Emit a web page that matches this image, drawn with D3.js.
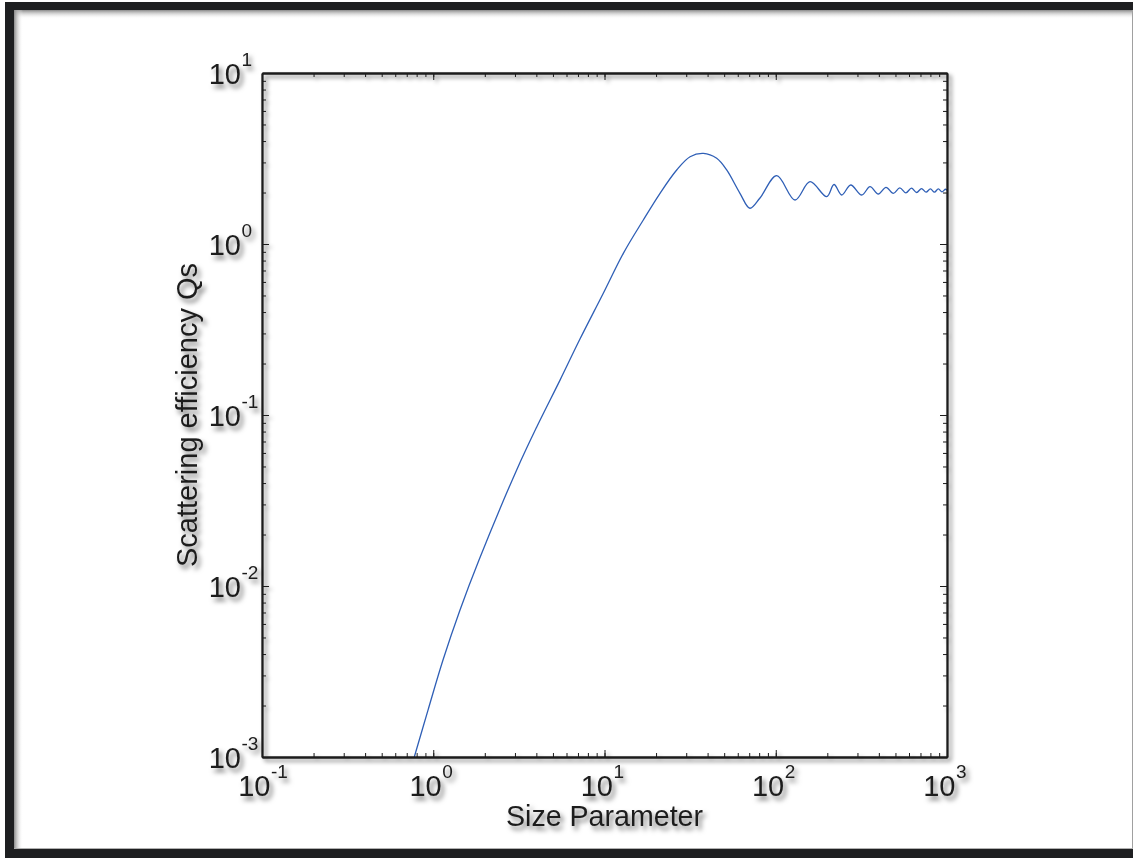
<!DOCTYPE html>
<html><head><meta charset="utf-8">
<script src="https://cdn.jsdelivr.net/npm/d3@7"></script>
<style>
body{margin:0;background:#fff}
svg{display:block}
text{font-family:"Liberation Sans",Arial,Helvetica,sans-serif;fill:#1e1e1e}
</style>
</head><body>
<svg id="chart" width="1133" height="858"></svg>
<script>
// ---- data ----
const sizeParameter = [0.775, 0.932, 1.14, 1.433, 1.85, 3.07, 4.02, 5.50, 7.19, 9.84, 12.88, 16.85, 21.1, 26.4, 31.6, 37.8, 45.2, 51.7, 61.8, 70.7, 80.9, 101.3, 129.6, 158.5, 198.4, 218.9, 242.7, 274.0, 317.7, 355.2, 397.1, 440.4, 485.8, 530, 575, 620, 665, 710, 755, 800, 845, 890, 935, 980, 1000];
const scatteringQs  = [0.001, 0.00188, 0.00369, 0.00724, 0.01419, 0.0477, 0.0851, 0.160, 0.278, 0.515, 0.882, 1.382, 1.979, 2.709, 3.24, 3.39, 3.17, 2.709, 1.979, 1.618, 1.858, 2.508, 1.808, 2.314, 1.891, 2.228, 1.934, 2.213, 1.934, 2.163, 1.960, 2.146, 1.979, 2.13, 1.99, 2.12, 2.00, 2.11, 2.01, 2.10, 2.01, 2.10, 2.02, 2.09, 2.06];
const xTickExponents = ["-1", "0", "1", "2", "3"];
const yTickExponents = ["-3", "-2", "-1", "0", "1"];
const tickBase = "10";
const xAxisTitle = "Size Parameter";
const yAxisTitle = "Scattering efficiency Qs";

const svg = d3.select("#chart");
const W = 1133, H = 858;
const pLeft = 262, pRight = 947, pTop = 73, pBottom = 757;

const defs = svg.append("defs");
function shadowFilter(id, dx, dy, sd, op){
  const f = defs.append("filter").attr("id",id).attr("x","-30%").attr("y","-30%").attr("width","170%").attr("height","170%");
  f.append("feGaussianBlur").attr("in","SourceAlpha").attr("stdDeviation",sd).attr("result","b");
  f.append("feOffset").attr("in","b").attr("dx",dx).attr("dy",dy).attr("result","o");
  f.append("feFlood").attr("flood-color","#000").attr("flood-opacity",op).attr("result","f");
  f.append("feComposite").attr("in","f").attr("in2","o").attr("operator","in").attr("result","s");
  const m = f.append("feMerge"); m.append("feMergeNode").attr("in","s"); m.append("feMergeNode").attr("in","SourceGraphic");
}
shadowFilter("tshadow", 3, 4, 2.4, 0.55);
shadowFilter("ashadow", 3, 3, 2, 0.45);

const gTop = defs.append("linearGradient").attr("id","gTop").attr("x1",0).attr("y1",0).attr("x2",0).attr("y2",1);
gTop.append("stop").attr("offset",0).attr("stop-color","#8a8a8a");
gTop.append("stop").attr("offset",1).attr("stop-color","#fff").attr("stop-opacity",0);
const gLeft = defs.append("linearGradient").attr("id","gLeft").attr("x1",0).attr("y1",0).attr("x2",1).attr("y2",0);
gLeft.append("stop").attr("offset",0).attr("stop-color","#8a8a8a");
gLeft.append("stop").attr("offset",1).attr("stop-color","#fff").attr("stop-opacity",0);

// ---- frame ----
svg.append("rect").attr("width",W).attr("height",H).attr("fill","#fff");
svg.append("rect").attr("x",14).attr("y",10).attr("width",W-14).attr("height",9).attr("fill","url(#gTop)");
svg.append("rect").attr("x",14).attr("y",10).attr("width",9).attr("height",838).attr("fill","url(#gLeft)");
svg.append("line").attr("x1",1132.5).attr("x2",1132.5).attr("y1",10).attr("y2",849).attr("stroke","#a0a0a0");
svg.append("line").attr("x1",14).attr("x2",W).attr("y1",848.5).attr("y2",848.5).attr("stroke","#b0b0b0");
svg.append("rect").attr("x",5).attr("y",2).attr("width",W-5).attr("height",8).attr("fill","#1e1f21");
svg.append("rect").attr("x",5).attr("y",2).attr("width",9).attr("height",H-2).attr("fill","#1e1f21");
svg.append("rect").attr("x",5).attr("y",849).attr("width",W-5).attr("height",9).attr("fill","#1e1f21");

// ---- scales ----
const x = d3.scaleLog().domain([0.1, 1000]).range([pLeft, pRight]);
const y = d3.scaleLog().domain([0.001, 10]).range([pBottom, pTop]);
const xMajor = xTickExponents.map(e => Math.pow(10, +e));
const yMajor = yTickExponents.map(e => Math.pow(10, +e));
const xMinor = x.ticks();
const yMinor = y.ticks();

// ---- curve ----
const plot = svg.append("g");
plot.append("clipPath").attr("id","clip").append("rect").attr("x",pLeft).attr("y",pTop).attr("width",pRight-pLeft).attr("height",pBottom-pTop);
const line = d3.line().x((d,i)=>x(sizeParameter[i])).y((d,i)=>y(scatteringQs[i])).curve(d3.curveCatmullRom.alpha(0.5));
plot.append("path").datum(scatteringQs).attr("clip-path","url(#clip)")
  .attr("d", line).attr("fill","none").attr("stroke","#2f5fb6").attr("stroke-width",1.3);

// ---- axes ----
const ax = svg.append("g").attr("filter","url(#ashadow)");
function styleAxis(g){ g.selectAll("path.domain").attr("stroke","#1b1b1b").attr("stroke-width",1.8); g.selectAll(".tick line").attr("stroke","#1b1b1b").attr("stroke-width",1); g.selectAll("text").remove(); }
[[d3.axisBottom, `translate(0,${pBottom})`, x, xMinor, xMajor],
 [d3.axisTop, `translate(0,${pTop})`, x, xMinor, xMajor],
 [d3.axisLeft, `translate(${pLeft},0)`, y, yMinor, yMajor],
 [d3.axisRight, `translate(${pRight},0)`, y, yMinor, yMajor]].forEach(([fn, tr, sc, mn, mj]) => {
  ax.append("g").attr("transform", tr).call(fn(sc).tickValues(mn).tickSize(-4).tickSizeOuter(0).tickFormat("")).call(styleAxis);
  ax.append("g").attr("transform", tr).call(fn(sc).tickValues(mj).tickSize(-7).tickSizeOuter(0).tickFormat("")).call(styleAxis);
});

// ---- tick labels ----
const lab = svg.append("g").attr("filter","url(#tshadow)");
xTickExponents.forEach((e,i) => {
  const cx = x(xMajor[i]) + 8.5;
  lab.append("text").attr("x", cx).attr("y", 796).attr("text-anchor","end").attr("font-size",29).text(tickBase);
  lab.append("text").attr("x", cx + 0.5).attr("y", 778).attr("text-anchor","start").attr("font-size",19).text(e);
});
yTickExponents.forEach((e,i) => {
  const cy = y(yMajor[i]);
  lab.append("text").attr("x", 241).attr("y", cy + 10.5).attr("text-anchor","end").attr("font-size",29).text(tickBase);
  lab.append("text").attr("x", 241.5).attr("y", cy - 7.5).attr("text-anchor","start").attr("font-size",19).text(e);
});

// ---- titles ----
lab.append("text").attr("x",(pLeft+pRight)/2).attr("y",826).attr("text-anchor","middle").attr("font-size",28.6).text(xAxisTitle);
lab.append("text").attr("transform",`translate(197,${(pTop+pBottom)/2}) rotate(-90)`).attr("text-anchor","middle").attr("font-size",29).text(yAxisTitle);
</script>
</body></html>
